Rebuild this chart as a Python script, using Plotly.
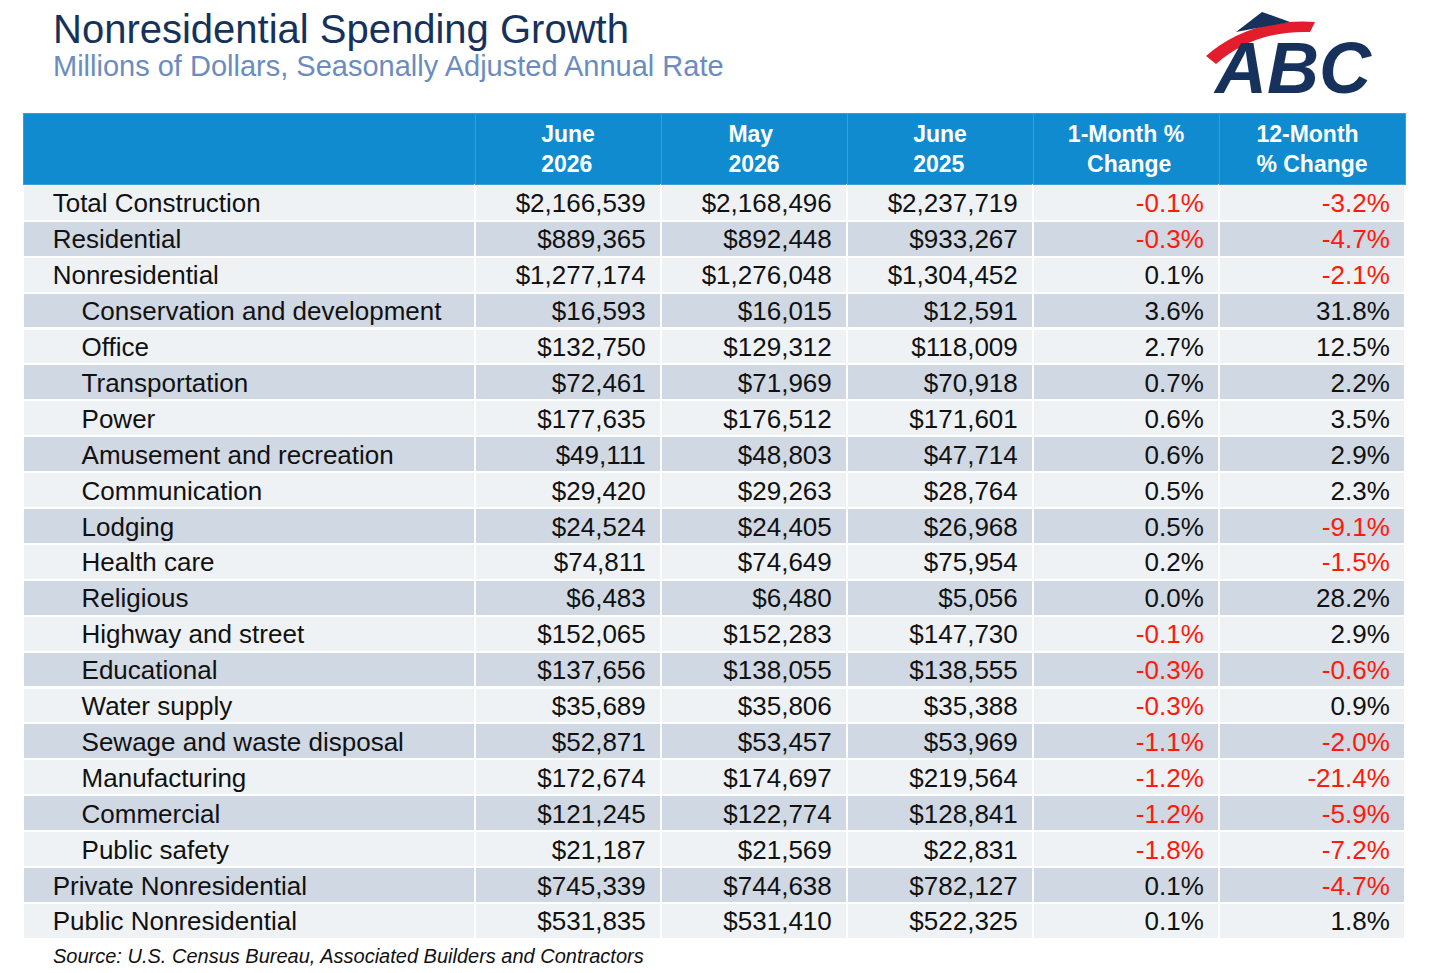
import plotly.graph_objects as go

labels = ["Total Construction", "Residential", "Nonresidential", "Conservation and development", "Office",
          "Transportation", "Power", "Amusement and recreation", "Communication", "Lodging", "Health care",
          "Religious", "Highway and street", "Educational", "Water supply", "Sewage and waste disposal",
          "Manufacturing", "Commercial", "Public safety", "Private Nonresidential", "Public Nonresidential"]
indent = [0, 0, 0] + [1] * 16 + [0, 0]
june2026 = [2166539, 889365, 1277174, 16593, 132750, 72461, 177635, 49111, 29420, 24524, 74811, 6483,
            152065, 137656, 35689, 52871, 172674, 121245, 21187, 745339, 531835]
may2026 = [2168496, 892448, 1276048, 16015, 129312, 71969, 176512, 48803, 29263, 24405, 74649, 6480,
           152283, 138055, 35806, 53457, 174697, 122774, 21569, 744638, 531410]
june2025 = [2237719, 933267, 1304452, 12591, 118009, 70918, 171601, 47714, 28764, 26968, 75954, 5056,
            147730, 138555, 35388, 53969, 219564, 128841, 22831, 782127, 522325]
m1 = [-0.1, -0.3, 0.1, 3.6, 2.7, 0.7, 0.6, 0.6, 0.5, 0.5, 0.2, 0.0, -0.1, -0.3, -0.3, -1.1, -1.2, -1.2, -1.8, 0.1, 0.1]
m12 = [-3.2, -4.7, -2.1, 31.8, 12.5, 2.2, 3.5, 2.9, 2.3, -9.1, -1.5, 28.2, 2.9, -0.6, 0.9, -2.0, -21.4, -5.9, -7.2, -4.7, 1.8]
NB = "\u00a0"
headers = ["", "June<br>2026", "May<br>2026", "June<br>2025", f"1-Month %<br>{NB*3}Change",
           "12-Month<br>% Change"]

W, H = 1430, 973
O = 8  # page body offset
n = len(labels)
lab = [(NB * 7 if i else NB * 3) + l for l, i in zip(labels, indent)]
pad = NB * 1
money = lambda v: [f"${x:,}" + pad for x in v]
pct = lambda v: [f"{x:.1f}%" + pad for x in v]
fills = ["#eef2f5" if i % 2 == 0 else "#d0d8e3" for i in range(n)]
red, blk = "#ff1a0a", "#111111"
pcol = lambda v: [red if x < 0 else blk for x in v]

left, right, top = 23 - O, 1405 - O, 113 - O
fig = go.Figure(go.Table(
    columnwidth=[452, 186, 186, 186, 186, 186],
    header=dict(values=headers, fill_color="#118bd0", line=dict(color="#3a9ed8", width=1),
                font=dict(family="Liberation Sans", size=23, color="white", weight="bold"),
                align="center", height=40),
    cells=dict(values=[lab, money(june2026), money(may2026), money(june2025), pct(m1), pct(m12)],
               fill_color=[fills] * 6, line=dict(color="white", width=2),
               font=dict(family="Liberation Sans", size=26,
                         color=[[blk] * n, [blk] * n, [blk] * n, [blk] * n, pcol(m1), pcol(m12)]),
               align=["left", "right", "right", "right", "right", "right"], height=35.9),
    domain=dict(x=[left / W, right / W], y=[0, 1 - top / H]),
))
fig.update_layout(
    width=W, height=H, margin=dict(l=0, r=0, t=0, b=0), paper_bgcolor="white",
    annotations=[
        dict(text="Nonresidential Spending Growth", x=(53 - O - 2) / W, y=1 - (29 - O) / H, xref="paper", yref="paper",
             xanchor="left", yanchor="middle", showarrow=False,
             font=dict(family="Liberation Sans", size=40, color="#16325c")),
        dict(text="Millions of Dollars, Seasonally Adjusted Annual Rate", x=(53 - O - 2) / W, y=1 - (66 - O) / H,
             xref="paper", yref="paper", xanchor="left", yanchor="middle", showarrow=False,
             font=dict(family="Liberation Sans", size=29, color="#6b8cc0")),
        dict(text="Source: U.S. Census Bureau, Associated Builders and Contractors", x=(53 - O - 2) / W, y=1 - (956 - O) / H,
             xref="paper", yref="paper", xanchor="left", yanchor="middle", showarrow=False,
             font=dict(family="Liberation Sans", size=20, color="#111111", style="italic")),
        dict(text="<b><i>ABC</i></b>", x=(1292 - O) / W, y=1 - (68 - O) / H, xref="paper", yref="paper",
             xanchor="center", yanchor="middle", showarrow=False,
             font=dict(family="Liberation Sans", size=72, color="#16325c")),
    ],
    shapes=[
        dict(type="path", xref="paper", yref="paper",
             path=f"M {(1206-O)/W},{1-(56-O)/H} Q {(1250-O)/W},{1-(18-O)/H} {(1315-O)/W},{1-(22-O)/H} L {(1310-O)/W},{1-(32-O)/H} Q {(1255-O)/W},{1-(30-O)/H} {(1216-O)/W},{1-(64-O)/H} Z",
             fillcolor="#e31d2b", line=dict(width=0)),
        dict(type="path", xref="paper", yref="paper",
             path=f"M {(1236-O)/W},{1-(32-O)/H} L {(1262-O)/W},{1-(12-O)/H} L {(1290-O)/W},{1-(22-O)/H} Z",
             fillcolor="#16325c", line=dict(width=0)),
    ],
)
fig.write_html("out.html")
